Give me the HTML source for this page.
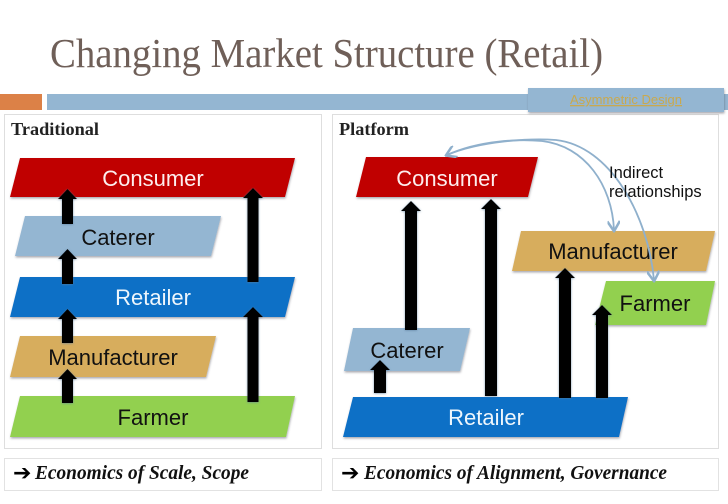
<!DOCTYPE html>
<html><head><meta charset="utf-8"><style>
html,body{margin:0;padding:0;background:#fff;width:728px;height:504px;overflow:hidden}
svg{display:block}
.a{font-family:"Liberation Sans",sans-serif;font-size:22px;text-anchor:middle}
.s{font-family:"Liberation Serif",serif}
</style></head><body>
<svg width="728" height="504" viewBox="0 0 728 504" xmlns="http://www.w3.org/2000/svg">
<defs>
<filter id="sh" x="-10%" y="-20%" width="120%" height="150%"><feDropShadow dx="0.5" dy="1.5" stdDeviation="1" flood-color="#445" flood-opacity="0.45"/></filter>
<filter id="ash" x="-60%" y="-10%" width="220%" height="120%"><feDropShadow dx="0" dy="0.5" stdDeviation="1" flood-color="#5a7f9f" flood-opacity="0.8"/></filter>
<marker id="m" viewBox="0 0 10 10" refX="8" refY="5" markerWidth="7" markerHeight="7" orient="auto-start-reverse"><path d="M1 0L9 5L1 10" fill="none" stroke="#8fb0cc" stroke-width="2"/></marker>
</defs>
<rect width="728" height="504" fill="#fff"/>
<text class="s" x="50" y="67" font-size="41" fill="#6f5f58" textLength="553" lengthAdjust="spacingAndGlyphs">Changing Market Structure (Retail)</text>
<rect x="0" y="94" width="42" height="16" fill="#dc8147"/>
<rect x="47" y="94" width="681" height="16" fill="#94b6d2"/>
<rect x="4.5" y="114.5" width="317" height="334" fill="#fff" stroke="#dedede"/>
<rect x="332.5" y="114.5" width="386" height="334" fill="#fff" stroke="#dedede"/>
<rect x="4.5" y="458.5" width="317" height="32" fill="#fff" stroke="#e2e2e2"/>
<rect x="332.5" y="458.5" width="386" height="32" fill="#fff" stroke="#e2e2e2"/>
<path d="M528 88H724V112H528Z" fill="#94b6d2" filter="url(#sh)"/>
<text x="626" y="104" font-family="Liberation Sans,sans-serif" font-size="13" fill="#c9a94f" text-anchor="middle" textLength="112" lengthAdjust="spacingAndGlyphs" text-decoration="underline">Asymmetric Design</text>
<text class="s" x="11" y="135" font-size="18" font-weight="bold" fill="#222" textLength="88" lengthAdjust="spacingAndGlyphs">Traditional</text>
<text class="s" x="339" y="135" font-size="18" font-weight="bold" fill="#222" textLength="70" lengthAdjust="spacingAndGlyphs">Platform</text>

<g filter="url(#sh)">
<polygon points="20,158 295,158 285,197 10,197" fill="#c00000"/>
<polygon points="25,216 221,216 211,256 15,256" fill="#94b6d2"/>
<polygon points="20,277 295,277 285,317 10,317" fill="#0f6fc6"/>
<polygon points="20,336 216,336 206,377 10,377" fill="#d7ad5d"/>
<polygon points="20,396 295,396 286,437 10,437" fill="#92d050"/>
<polygon points="366,157 538,157 528,197 356,197" fill="#c00000"/>
<polygon points="521,231 715,231 706,271 512,271" fill="#d7ad5d"/>
<polygon points="606,281 715,281 706,325 595,325" fill="#92d050"/>
<polygon points="353,328 470,328 460,371 344,371" fill="#94b6d2"/>
<polygon points="353,397 628,397 619,437 343,437" fill="#0f6fc6"/>
</g>

<g class="a">
<text class="a" x="153" y="186" fill="#fdeeee">Consumer</text>
<text class="a" x="118" y="245" fill="#111">Caterer</text>
<text class="a" x="153" y="305" fill="#eef6fc">Retailer</text>
<text class="a" x="113" y="365" fill="#111">Manufacturer</text>
<text class="a" x="153" y="425" fill="#111">Farmer</text>
<text class="a" x="447" y="186" fill="#fdeeee">Consumer</text>
<text class="a" x="613" y="259" fill="#111">Manufacturer</text>
<text class="a" x="655" y="311" fill="#111">Farmer</text>
<text class="a" x="407" y="358" fill="#111">Caterer</text>
<text class="a" x="486" y="425" fill="#eef6fc">Retailer</text>
</g>

<g fill="#000" filter="url(#ash)">
<polygon points="67.5,189 77,199 73,199 73,224 62,224 62,199 58,199"/>
<polygon points="67.5,249 77,259 73,259 73,284 62,284 62,259 58,259"/>
<polygon points="67.5,309 77,319 73,319 73,343 62,343 62,319 58,319"/>
<polygon points="67.5,369 77,379 73,379 73,403 62,403 62,379 58,379"/>
<polygon points="253,188 263,198 258.5,198 258.5,282 247.5,282 247.5,198 243,198"/>
<polygon points="253,307 263,317 258.5,317 258.5,402 247.5,402 247.5,317 243,317"/>
<polygon points="411,201 421,211 417,211 417,330 405,330 405,211 401,211"/>
<polygon points="491,199 501,209 497,209 497,396 485,396 485,209 481,209"/>
<polygon points="565,268 575,278 571,278 571,398 559,398 559,278 555,278"/>
<polygon points="602,305 612,315 608,315 608,398 596,398 596,315 592,315"/>
<polygon points="380,360 390,370 386,370 386,393 374,393 374,370 370,370"/>
</g>

<g fill="none" stroke="#8fb0cc" stroke-width="1.8">
<path d="M447 155C480 140 520 139 542 141C585 146 612 185 614 230" marker-start="url(#m)" marker-end="url(#m)"/>
<path d="M447 155C480 141 530 138 556 140C610 146 648 215 654 280" marker-end="url(#m)"/>
</g>
<text x="609" y="178" font-family="Liberation Sans,sans-serif" font-size="16.5" fill="#111">Indirect</text>
<text x="609" y="197" font-family="Liberation Sans,sans-serif" font-size="16.5" fill="#111">relationships</text>

<text x="13" y="480" font-family="DejaVu Sans,sans-serif" font-size="22" font-weight="bold" fill="#000">➔</text>
<text class="s" x="35" y="479" font-size="20" font-weight="bold" font-style="italic" fill="#111" textLength="214" lengthAdjust="spacingAndGlyphs">Economics of Scale, Scope</text>
<text x="341" y="480" font-family="DejaVu Sans,sans-serif" font-size="22" font-weight="bold" fill="#000">➔</text>
<text class="s" x="364" y="479" font-size="20" font-weight="bold" font-style="italic" fill="#111" textLength="303" lengthAdjust="spacingAndGlyphs">Economics of Alignment, Governance</text>
</svg>
</body></html>
